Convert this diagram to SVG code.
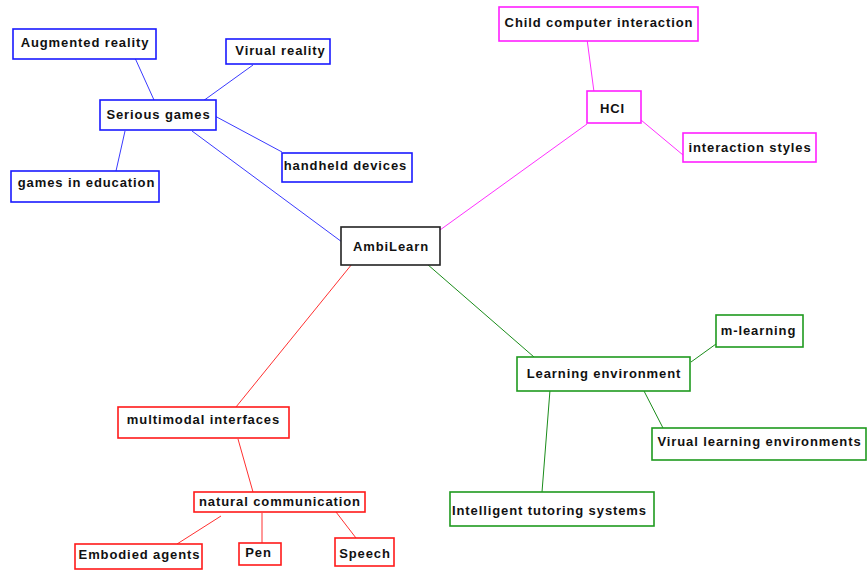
<svg xmlns="http://www.w3.org/2000/svg" width="867" height="571" viewBox="0 0 867 571">
  <style>
    rect { fill: #ffffff; stroke-width: 1.6; }
    text { font-family: "Liberation Sans", Arial, sans-serif; font-weight: bold; font-size: 13px; letter-spacing: 0.9px; fill: #111111; text-anchor: middle; }
    .blue rect { stroke: #1a1aff; }
    .mag rect { stroke: #ff20ff; }
    .red rect { stroke: #ff1a1a; }
    .green rect { stroke: #1f9a1f; }
    .root rect { stroke: #222222; }
    line { stroke-width: 1; }
    .lb { stroke: #3a3aff; }
    .lm { stroke: #ff30ff; }
    .lr { stroke: #ff3030; }
    .lg { stroke: #1a8c1a; }
  </style>

  <rect x="0" y="0" width="867" height="571" style="fill:#ffffff;stroke:none"/>

  <g id="connectors">
    <!-- blue branch -->
    <line class="lb" x1="192" y1="131" x2="342" y2="242"/>
    <line class="lb" x1="135" y1="58" x2="154" y2="100"/>
    <line class="lb" x1="253" y1="65" x2="203" y2="101"/>
    <line class="lb" x1="213" y1="115" x2="282" y2="152"/>
    <line class="lb" x1="125" y1="131" x2="116" y2="171"/>
    <!-- magenta branch -->
    <line class="lm" x1="440" y1="230" x2="587" y2="124"/>
    <line class="lm" x1="587" y1="39" x2="594" y2="92"/>
    <line class="lm" x1="641" y1="120" x2="683" y2="155"/>
    <!-- green branch -->
    <line class="lg" x1="427" y1="264" x2="534" y2="357"/>
    <line class="lg" x1="691" y1="362" x2="716" y2="344"/>
    <line class="lg" x1="644" y1="391" x2="663" y2="428"/>
    <line class="lg" x1="550" y1="390" x2="542" y2="492"/>
    <!-- red branch -->
    <line class="lr" x1="352" y1="264" x2="236" y2="407"/>
    <line class="lr" x1="238" y1="439" x2="253" y2="492"/>
    <line class="lr" x1="221" y1="516" x2="177" y2="544"/>
    <line class="lr" x1="262" y1="513" x2="262" y2="543"/>
    <line class="lr" x1="336" y1="512" x2="356" y2="538"/>
  </g>

  <g id="ambilearn" class="root">
    <rect x="341" y="227" width="99" height="38"/>
    <text x="391" y="250.5">AmbiLearn</text>
  </g>

  <g id="serious-games" class="blue">
    <rect x="100" y="100" width="116" height="30"/>
    <text x="158.5" y="119">Serious games</text>
  </g>
  <g id="augmented-reality" class="blue">
    <rect x="13" y="29" width="143" height="30"/>
    <text x="85" y="47">Augmented reality</text>
  </g>
  <g id="virual-reality" class="blue">
    <rect x="226" y="39" width="104" height="25"/>
    <text x="280.5" y="55">Virual reality</text>
  </g>
  <g id="handheld-devices" class="blue">
    <rect x="282" y="153" width="130" height="29"/>
    <text x="345.5" y="170">handheld devices</text>
  </g>
  <g id="games-in-education" class="blue">
    <rect x="11" y="171" width="148" height="31"/>
    <text x="86.5" y="187">games in education</text>
  </g>

  <g id="hci" class="mag">
    <rect x="587" y="91" width="54" height="32"/>
    <text x="612.5" y="113">HCI</text>
  </g>
  <g id="child-computer-interaction" class="mag">
    <rect x="499" y="7" width="199" height="34"/>
    <text x="599" y="27">Child computer interaction</text>
  </g>
  <g id="interaction-styles" class="mag">
    <rect x="683" y="133" width="133" height="29"/>
    <text x="750" y="152">interaction styles</text>
  </g>

  <g id="learning-environment" class="green">
    <rect x="517" y="357" width="173" height="34"/>
    <text x="604" y="378">Learning environment</text>
  </g>
  <g id="m-learning" class="green">
    <rect x="716" y="315" width="87" height="32"/>
    <text x="758.5" y="335">m-learning</text>
  </g>
  <g id="virual-learning-environments" class="green">
    <rect x="652" y="428" width="214" height="32"/>
    <text x="759.5" y="446">Virual learning environments</text>
  </g>
  <g id="intelligent-tutoring-systems" class="green">
    <rect x="450" y="492" width="204" height="34"/>
    <text x="549.5" y="515">Intelligent tutoring systems</text>
  </g>

  <g id="multimodal-interfaces" class="red">
    <rect x="118" y="407" width="171" height="31"/>
    <text x="203.5" y="424">multimodal interfaces</text>
  </g>
  <g id="natural-communication" class="red">
    <rect x="194" y="492" width="171" height="20"/>
    <text x="280" y="506">natural communication</text>
  </g>
  <g id="embodied-agents" class="red">
    <rect x="75" y="544" width="127" height="25"/>
    <text x="139.5" y="559">Embodied agents</text>
  </g>
  <g id="pen" class="red">
    <rect x="239" y="543" width="42" height="22"/>
    <text x="258.5" y="557">Pen</text>
  </g>
  <g id="speech" class="red">
    <rect x="335" y="538" width="59" height="28"/>
    <text x="365" y="558">Speech</text>
  </g>
</svg>
